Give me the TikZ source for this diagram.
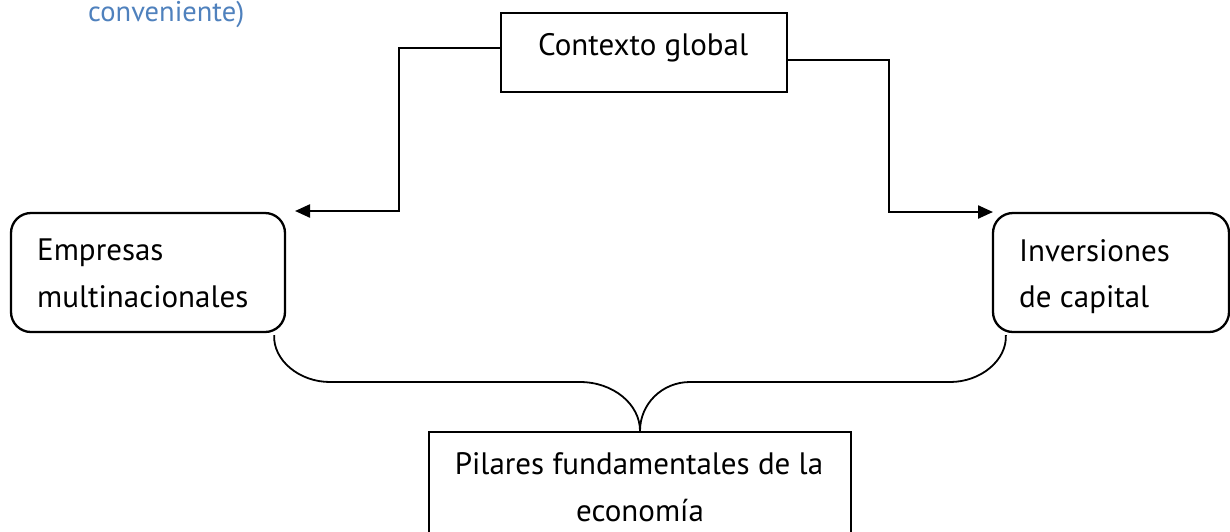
\documentclass[tikz,border=0pt]{standalone}
\usepackage{fontspec}
\setmainfont{PT Sans}
\usetikzlibrary{arrows.meta}
\definecolor{hdblue}{HTML}{4F81BD}
\tikzset{
  boxsq/.style={draw=black, line width=2.3pt, rectangle, inner sep=0pt},
  boxrd/.style={draw=black, line width=2.3pt, rectangle, rounded corners=20pt, inner sep=0pt},
  txt/.style={font=\fontsize{31}{37}\selectfont, inner sep=0pt, anchor=base west},
  txtc/.style={font=\fontsize{31}{37}\selectfont, inner sep=0pt, anchor=base},
  conn/.style={line width=2.3pt, -{Triangle[length=15pt,width=13pt]}},
  bracel/.style={line width=1.8pt},
}
\begin{document}
\begin{tikzpicture}[x=1pt,y=-1pt]
\useasboundingbox (0,0) rectangle (1230,531);
\clip (0,0) rectangle (1230,531);
% top note
\node[font=\fontsize{28.5}{33}\selectfont, text=hdblue, inner sep=0pt, anchor=base west] (note) at (88,21) {conveniente)};
% boxes
\node[boxsq, minimum width=286pt, minimum height=79pt] (ctx) at (644,52.5) {};
\node[txt] (ctxt) at (538,55) {Contexto global};
\node[boxrd, minimum width=274pt, minimum height=119pt] (emp) at (148,272.5) {};
\node[txt] (empt1) at (37,260) {Empresas};
\node[txt] (empt2) at (37,307) {multinacionales};
\node[boxrd, minimum width=236pt, minimum height=119pt] (inv) at (1111,272.5) {};
\node[txt] (invt1) at (1019,261) {Inversiones};
\node[txt] (invt2) at (1019,307) {de capital};
\node[boxsq, minimum width=422pt, minimum height=130pt] (pil) at (640,497) {};
\node[txtc] (pilt1) at (639,474) {Pilares fundamentales de la};
\node[txtc] (pilt2) at (640,521) {economía};
% connector end points
\coordinate (la) at (295,211);
\coordinate (ra) at (993,212);
% connectors
\draw[conn] ([yshift=4.5pt]ctx.west) -| (399,211) -- (la);
\draw[conn] ([yshift=-7.5pt]ctx.east) -| (889,212) -- (ra);
% brace
\coordinate (tip) at (pil.north);
\draw[bracel] ([xshift=-12pt,yshift=-2pt]emp.south east) .. controls (273,360) and (299,382) .. (330,382)
  -- (580,382) .. controls (613,382) and (640,404) .. (tip);
\draw[bracel] (tip) .. controls (640,404) and (662,382) .. (690,382)
  -- (950,382) .. controls (981,382) and (1007,360) .. ([xshift=14pt,yshift=-2pt]inv.south west);
\end{tikzpicture}
\end{document}
